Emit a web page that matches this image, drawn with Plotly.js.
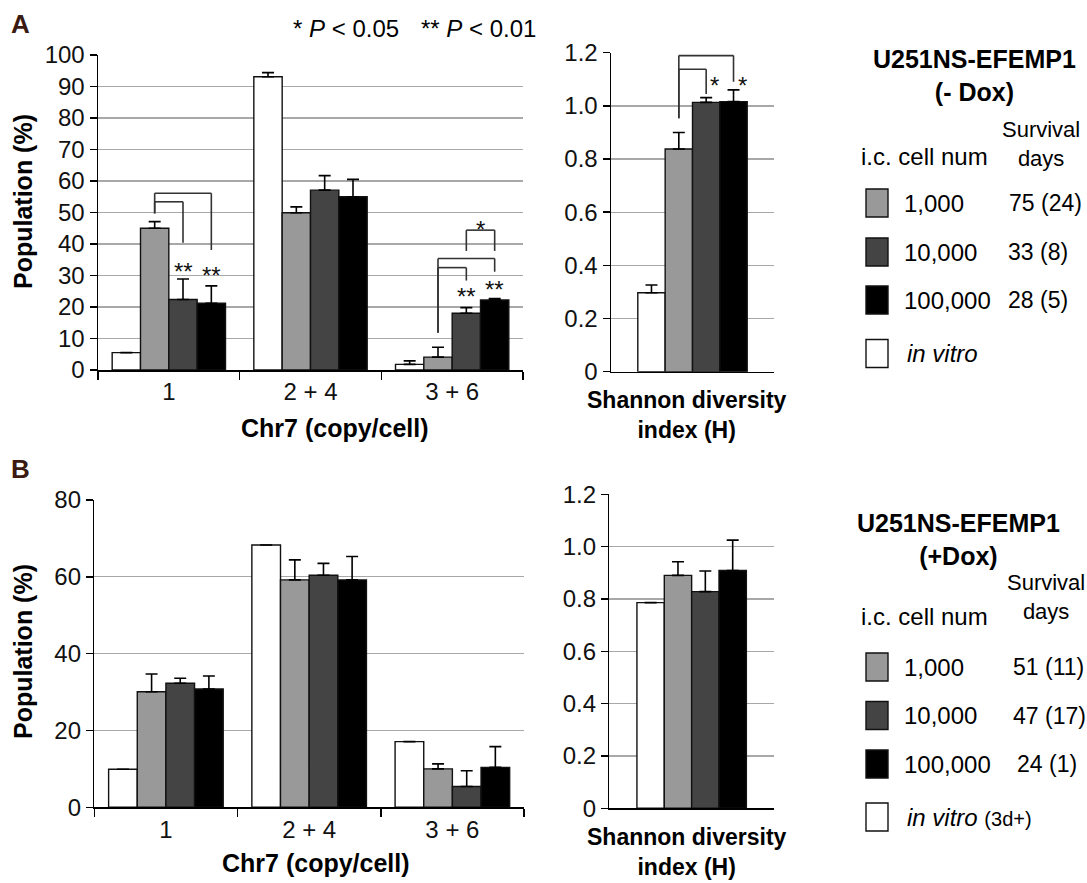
<!DOCTYPE html>
<html><head><meta charset="utf-8">
<script src="https://cdn.plot.ly/plotly-3.0.1.min.js"></script>
<style>html,body{margin:0;padding:0;background:#fff}#chart{width:1087px;height:883px}</style>
</head><body><div id="chart"></div>
<script>
const W = 1087, H = 883;
const FONT = '"Liberation Sans", Arial, Helvetica, sans-serif';

// ---- data ----
const categories = ['1', '2 + 4', '3 + 6'];
const seriesNames = ['in vitro', '1,000', '10,000', '100,000'];
const shannonCat = ['Shannon diversity index (H)'];

// Panel A (-Dox): population (%) per Chr7 copy class
const popA_invitro = [5.5, 93.1, 1.8];
const popA_invitro_err = [null, 1.3, 1.1];
const popA_1k = [45.0, 49.9, 4.1];
const popA_1k_err = [2.1, 1.9, 3.1];
const popA_10k = [22.4, 57.1, 18.0];
const popA_10k_err = [6.5, 4.6, 1.8];
const popA_100k = [21.2, 55.0, 22.2];
const popA_100k_err = [5.5, 5.5, 0.5];
// Panel A Shannon diversity index
const shanA = [0.297, 0.838, 1.013, 1.016];
const shanA_err = [0.029, 0.062, 0.018, 0.044];

// Panel B (+Dox)
const popB_invitro = [9.9, 68.3, 17.1];
const popB_invitro_err = [null, null, null];
const popB_1k = [30.1, 59.2, 10.0];
const popB_1k_err = [4.6, 5.2, 1.3];
const popB_10k = [32.3, 60.4, 5.4];
const popB_10k_err = [1.3, 3.1, 4.1];
const popB_100k = [30.8, 59.2, 10.4];
const popB_100k_err = [3.4, 6.1, 5.4];
const shanB = [0.786, 0.890, 0.828, 0.909];
const shanB_err = [null, 0.052, 0.079, 0.116];

// legend tables
const survivalA = ['75 (24)', '33 (8)', '28 (5)'];
const survivalB = ['51 (11)', '47 (17)', '24 (1)'];

// significance brackets: [from series, to series, category, top, left bottom, right bottom]
const sigA_pop = [
  [1, 2, 0, 53.4, 49.7, 40.4],
  [1, 3, 0, 56.1, 49.7, 38.1],
  [1, 2, 2, 32.5, 11.8, 28.4],
  [1, 3, 2, 35.4, 11.8, 31.2],
  [2, 3, 2, 44.4, 37.8, 37.8]
];
const sigA_shan = [
  [1, 2, 0, 1.138, 0.953, 1.045],
  [1, 3, 0, 1.189, 0.953, 1.091]
];
// star labels: [text, series, category, x shift (in bar units), y]
const starsA_pop = [
  ['**', 2, 0, 0, 33.3], ['**', 3, 0, 0, 32.0],
  ['**', 2, 2, 0, 25.1], ['**', 3, 2, 0, 27.5],
  ['*', 2, 2, 0.5, 46.5]
];
const starsA_shan = [['*', 2, 0, 0.32, 1.10], ['*', 3, 0, 0.32, 1.10]];

// ---- helpers ----
const colors = ['#ffffff', '#999999', '#444444', '#000000'];
const BARW = 0.2; // width of one bar in category units (bargap 0.2, 4 series)
function barX(series, cat) { return cat + (series - 1.5) * BARW; }

function traces(xvals, vals, errs, xa, ya) {
  return vals.map((v, i) => ({
    type: 'bar', x: xvals, y: v, name: seriesNames[i], xaxis: xa, yaxis: ya,
    marker: { color: colors[i], line: { color: '#111', width: 1.4 } },
    error_y: {
      type: 'data', symmetric: false, array: errs[i],
      arrayminus: errs[i].map(e => e == null ? null : 0),
      color: '#000', thickness: 1.6, width: 6
    },
    showlegend: false, hoverinfo: 'x+y'
  }));
}

const data = []
  .concat(traces(categories, [popA_invitro, popA_1k, popA_10k, popA_100k],
    [popA_invitro_err, popA_1k_err, popA_10k_err, popA_100k_err], 'x', 'y'))
  .concat(traces(shannonCat, shanA.map(v => [v]), shanA_err.map(e => [e]), 'x2', 'y2'))
  .concat(traces(categories, [popB_invitro, popB_1k, popB_10k, popB_100k],
    [popB_invitro_err, popB_1k_err, popB_10k_err, popB_100k_err], 'x3', 'y3'))
  .concat(traces(shannonCat, shanB.map(v => [v]), shanB_err.map(e => [e]), 'x4', 'y4'));

const shapes = [];
const LINE = { color: '#333', width: 1.6 };
function addBrackets(list, xa, ya) {
  list.forEach(b => {
    const x1 = barX(b[0], b[2]), x2 = barX(b[1], b[2]);
    shapes.push({ type: 'line', xref: xa, yref: ya, x0: x1, x1: x1, y0: b[4], y1: b[3], line: LINE });
    shapes.push({ type: 'line', xref: xa, yref: ya, x0: x1, x1: x2, y0: b[3], y1: b[3], line: LINE });
    shapes.push({ type: 'line', xref: xa, yref: ya, x0: x2, x1: x2, y0: b[3], y1: b[5], line: LINE });
  });
}
addBrackets(sigA_pop, 'x', 'y');
addBrackets(sigA_shan, 'x2', 'y2');

const annotations = [];
function ann(text, x, y, opts) {
  const o = Object.assign({ size: 24, xanchor: 'center', color: '#000' }, opts || {});
  annotations.push({
    text: text, x: x / W, y: 1 - y / H, xref: 'paper', yref: 'paper', showarrow: false,
    xanchor: o.xanchor, yanchor: 'middle', textangle: o.textangle || 0, borderpad: 0,
    font: { family: FONT, size: o.size, color: o.color }
  });
}
function addStars(list, xa, ya) {
  list.forEach(s => {
    annotations.push({
      text: s[0], x: barX(s[1], s[2]) + s[3] * BARW, y: s[4], xref: xa, yref: ya,
      showarrow: false, xanchor: 'center', yanchor: 'middle', yshift: -6,
      font: { family: FONT, size: 24, color: '#111' }
    });
  });
}
addStars(starsA_pop, 'x', 'y');
addStars(starsA_shan, 'x2', 'y2');

// panel letters and p-value key
ann('<b>A</b>', 20, 24, { color: '#3b1a12', size: 26 });
ann('<b>B</b>', 20, 469, { color: '#3b1a12', size: 26 });
ann('* <i>P</i> &lt; 0.05', 292, 28, { xanchor: 'left', size: 24 });
ann('** <i>P</i> &lt; 0.01', 420, 28, { xanchor: 'left', size: 24 });

// axis titles
ann('<b>Population (%)</b>', 23, 202, { textangle: -90, size: 25 });
ann('<b>Population (%)</b>', 23, 652, { textangle: -90, size: 25 });
ann('<b>Chr7 (copy/cell)</b>', 335, 428, { size: 25 });
ann('<b>Chr7 (copy/cell)</b>', 316, 863, { size: 25 });
ann('<b>Shannon diversity<br>index (H)</b>', 687, 415, { size: 23 });
ann('<b>Shannon diversity<br>index (H)</b>', 687, 852, { size: 23 });

// legends
function legend(titleX, titleY, subTitle, survX, survY, headY, rowsY, surv, survXs, invitroText) {
  ann('<b>U251NS-EFEMP1<br>' + subTitle + '</b>', titleX, titleY, { size: 25 });
  ann('Survival<br>days', survX, survY, { size: 22 });
  ann('i.c. cell num', 924, headY);
  const order = [1, 2, 3, 0];
  order.forEach((s, k) => {
    const cy = rowsY[k];
    shapes.push({ type: 'rect', xref: 'paper', yref: 'paper', x0: 866 / W, x1: 888 / W,
      y0: 1 - (cy + 14) / H, y1: 1 - (cy - 14) / H, fillcolor: colors[s], line: { color: '#111', width: 1.4 } });
    if (s > 0) {
      ann(seriesNames[s], 903, cy, { xanchor: 'left' });
      ann(surv[k], survXs[k], cy, { xanchor: 'left', size: 23 });
    } else {
      ann(invitroText, 906, cy, { xanchor: 'left' });
    }
  });
}
legend(974, 76, '(- Dox)', 1041, 144, 157, [203, 252, 300, 353.5], survivalA, [1008, 1007, 1007], '<i>in vitro</i>');
legend(958, 539, '(+Dox)', 1046, 597, 616, [667, 715.5, 764, 817], survivalB, [1012, 1012, 1016],
  '<i>in vitro</i> <span style="font-size:20px">(3d+)</span>');

// ---- axes ----
const tickFont = { family: FONT, size: 24, color: '#111' };
function xCat(d0, d1, anchor) {
  return { domain: [d0 / W, d1 / W], anchor: anchor, type: 'category', range: [-0.5, 2.5],
    showline: true, linecolor: '#000', linewidth: 1.5, ticks: 'outside', tickson: 'boundaries',
    ticklen: 8, tickwidth: 1.5, tickcolor: '#000', showgrid: false, tickfont: tickFont, fixedrange: true };
}
function xShan(d0, d1, anchor, half) {
  return { domain: [d0 / W, d1 / W], anchor: anchor, type: 'category', range: [-half, half],
    showline: true, linecolor: '#000', linewidth: 1.5, ticks: '', showticklabels: false,
    showgrid: false, fixedrange: true };
}
function yAx(top, bottom, anchor, range, tv, tt) {
  return { domain: [1 - bottom / H, 1 - top / H], anchor: anchor, range: range,
    tickvals: tv, ticktext: tt, showline: true, linecolor: '#000', linewidth: 1.5,
    ticks: 'outside', ticklen: 7, tickwidth: 1.5, tickcolor: '#000',
    showgrid: true, gridcolor: '#a8a8a8', gridwidth: 1.3, zeroline: false,
    tickfont: tickFont, fixedrange: true };
}
const tvA = [0, 10, 20, 30, 40, 50, 60, 70, 80, 90, 100];
const tvB = [0, 20, 40, 60, 80];
const tvS = [0, 0.2, 0.4, 0.6, 0.8, 1.0, 1.2];
const ttS = ['0', '0.2', '0.4', '0.6', '0.8', '1.0', '1.2'];

const layout = {
  width: W, height: H, margin: { l: 0, r: 0, t: 0, b: 0 },
  paper_bgcolor: '#fff', plot_bgcolor: 'rgba(0,0,0,0)',
  barmode: 'group', bargap: 0.2, bargroupgap: 0,
  font: { family: FONT, color: '#000' },
  xaxis: xCat(98, 523, 'y'),
  yaxis: yAx(55, 370, 'x', [0, 100], tvA, tvA.map(String)),
  xaxis2: xShan(611, 774, 'y2', 0.596),
  yaxis2: yAx(52.7, 371.7, 'x2', [0, 1.2], tvS, ttS),
  xaxis3: xCat(94.3, 524, 'y3'),
  yaxis3: yAx(500, 807.3, 'x3', [0, 80], tvB, tvB.map(String)),
  xaxis4: xShan(609.3, 774, 'y4', 0.602),
  yaxis4: yAx(494.3, 808.3, 'x4', [0, 1.2], tvS, ttS),
  shapes: shapes, annotations: annotations, showlegend: false
};

Plotly.newPlot('chart', data, layout, { displayModeBar: false, staticPlot: true });
</script>
</body></html>
